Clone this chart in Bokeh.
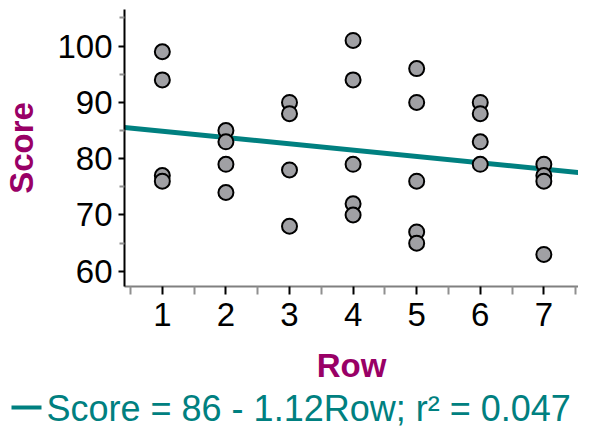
from bokeh.plotting import figure
from bokeh.models import Range1d, FixedTicker
from bokeh.layouts import column
from bokeh.embed import file_html
from bokeh.resources import INLINE

# Data
rows = [1, 1, 1, 1,
        2, 2, 2, 2,
        3, 3, 3, 3,
        4, 4, 4, 4, 4,
        5, 5, 5, 5, 5,
        6, 6, 6, 6,
        7, 7, 7, 7]
scores = [99, 94, 77, 76,
          85, 83, 79, 74,
          90, 88, 78, 68,
          101, 94, 79, 72, 70,
          96, 90, 76, 67, 65,
          90, 88, 83, 79,
          79, 77, 76, 63]

fit_intercept = 86.0
fit_slope = -1.12
fit_label = "Score = 86 - 1.12Row; r\u00b2 = 0.047"

x_ticks = [1, 2, 3, 4, 5, 6, 7]
x_minor = [0.5, 1.5, 2.5, 3.5, 4.5, 5.5, 6.5, 7.5]
y_ticks = [60, 70, 80, 90, 100]
y_minor = [55, 65, 75, 85, 95, 105]

x_lo, x_hi = 0.405, 7.545
y_lo, y_hi = 57.3, 106.5

FONT = "Liberation Sans"
TEAL = "#008080"
PURPLE = "#990066"

W = 578
H1 = 386
H2 = 43

p = figure(width=W, height=H1, output_backend="svg", toolbar_location=None,
           x_range=Range1d(x_lo, x_hi), y_range=Range1d(y_lo, y_hi),
           min_border_left=116, min_border_right=0, min_border_top=9,
           min_border_bottom=H1 - 9 - 278)
p.frame_align = False
p.outline_line_color = None
p.xgrid.visible = False
p.ygrid.visible = False

# regression line across the whole x range
fx = [x_lo, x_hi]
fy = [fit_intercept + fit_slope * v for v in fx]
p.line(fx, fy, line_color=TEAL, line_width=5)

p.scatter(rows, scores, size=15, fill_color="#A0A0A4", line_color="black", line_width=2)

# axes
p.xaxis.ticker = FixedTicker(ticks=x_ticks, minor_ticks=x_minor)
p.yaxis.ticker = FixedTicker(ticks=y_ticks, minor_ticks=y_minor)

for ax in (p.xaxis[0], p.yaxis[0]):
    ax.major_label_text_font = FONT
    ax.major_label_text_font_size = "33px"
    ax.major_label_text_color = "black"
    ax.major_tick_in = 0
    ax.minor_tick_in = 0
    ax.major_tick_line_color = "black"
    ax.major_tick_line_width = 2
    ax.minor_tick_line_color = "#909090"
    ax.minor_tick_line_width = 2
    ax.axis_label_text_font = FONT
    ax.axis_label_text_font_style = "bold"
    ax.axis_label_text_font_size = "33px"
    ax.axis_label_text_color = PURPLE

p.yaxis.axis_line_color = "black"
p.yaxis.axis_line_width = 2
p.yaxis.major_tick_out = 6
p.yaxis.minor_tick_out = 5
p.yaxis.major_label_standoff = 6
p.yaxis.axis_label = "Score"
p.yaxis.axis_label_standoff = 14

p.xaxis.axis_line_color = "#808080"
p.xaxis.axis_line_width = 2
p.xaxis.major_tick_out = 8
p.xaxis.minor_tick_out = 8
p.xaxis.major_label_standoff = 8
p.xaxis.axis_label = "Row"
p.xaxis.axis_label_standoff = 18

# legend strip below the chart (pixel-unit coordinates)
leg = figure(width=W, height=H2, output_backend="svg", toolbar_location=None,
             x_range=Range1d(0, W), y_range=Range1d(0, H2),
             x_axis_location=None, y_axis_location=None,
             min_border=0)
leg.frame_align = False
leg.xgrid.visible = False
leg.ygrid.visible = False
leg.outline_line_color = None
leg.line([11, 41], [22, 22], line_color=TEAL, line_width=4)
leg.text([46], [21], text=[fit_label], text_font_size="36px", text_color=TEAL,
         text_baseline="alphabetic", text_align="left",
         text_font={"value": FONT})

open("out.html", "w").write(file_html(column(p, leg, spacing=0), INLINE))
